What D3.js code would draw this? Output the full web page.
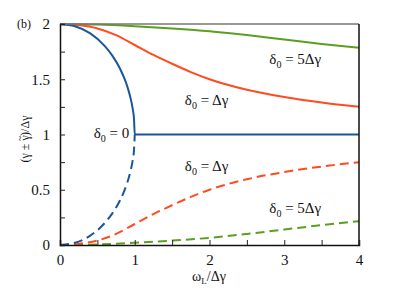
<!DOCTYPE html>
<html>
<head>
<meta charset="utf-8">
<script src="https://cdn.jsdelivr.net/npm/d3@7"></script>
<style>
  body { margin: 0; background: #fff; }
  svg, svg text { font-family: "Liberation Serif", "DejaVu Serif", serif; fill: #111; }
</style>
</head>
<body>
<svg id="chart" width="399" height="299" font-family="Liberation Serif"></svg>
<script>
// values (x = omega_L / delta gamma)
let blueUpX = [0, 0.2, 0.4, 0.6, 0.7, 0.8, 0.86, 0.9, 0.94, 0.97, 0.99, 1.0, 4.0];
let blueUpY = [2.0, 1.98, 1.917, 1.8, 1.714, 1.6, 1.51, 1.436, 1.34, 1.243, 1.14, 1.0, 1.0];
let blueLoX = [0, 0.2, 0.4, 0.6, 0.7, 0.8, 0.86, 0.9, 0.94, 0.97, 0.99, 1.0];
let blueLoY = [0.0, 0.02, 0.083, 0.2, 0.286, 0.4, 0.49, 0.564, 0.66, 0.757, 0.86, 1.0];

let redX = [0, 0.25, 0.5, 0.75, 1.0, 1.25, 1.5, 1.75, 2.0, 2.5, 3.0, 3.5, 4.0];
let redUpY = [2.0, 1.99, 1.96, 1.9, 1.81, 1.72, 1.64, 1.565, 1.5, 1.405, 1.34, 1.29, 1.25];
let redLoY = [0.0, 0.01, 0.04, 0.1, 0.19, 0.28, 0.36, 0.435, 0.5, 0.595, 0.66, 0.71, 0.75];

let greenX = [0, 0.5, 1.0, 1.5, 2.0, 2.5, 3.0, 3.5, 4.0];
let greenUpY = [2.0, 1.995, 1.98, 1.96, 1.935, 1.9, 1.86, 1.82, 1.785];
let greenLoY = [0.0, 0.005, 0.02, 0.04, 0.065, 0.1, 0.14, 0.18, 0.215];

let xTicks = [0, 1, 2, 3, 4];
let xMinor = [0.5, 1.5, 2.5, 3.5];
let yTicks = [0, 0.5, 1, 1.5, 2];
let yMinor = [0.25, 0.75, 1.25, 1.75];

let serif = "Liberation Serif, DejaVu Serif, serif";

let margins = { top: 24, right: 40, bottom: 54, left: 60 };
let width = 399 - margins.left - margins.right;
let height = 299 - margins.top - margins.bottom;

let xScale = d3.scaleLinear().domain([0, 4]).range([0, width]);
let yScale = d3.scaleLinear().domain([0, 2]).range([height, 0]);

let svg = d3.select("#chart");
let graph = svg.append("g")
  .attr("transform", "translate(" + margins.left + "," + margins.top + ")");

let zip = function(xs, ys) { return xs.map(function(x, i) { return [x, ys[i]]; }); };
let line = d3.line()
  .x(function(d) { return xScale(d[0]); })
  .y(function(d) { return yScale(d[1]); })
  .curve(d3.curveMonotoneX);

let blue = "#1b559c", red = "#ff4b1f", green = "#5b9f22";
let series = [
  { pts: zip(greenX, greenLoY), color: green, dash: "9,5" },
  { pts: zip(redX, redLoY), color: red, dash: "9,5" },
  { pts: zip(blueLoX, blueLoY), color: blue, dash: "9,5" },
  { pts: zip(greenX, greenUpY), color: green, dash: null },
  { pts: zip(redX, redUpY), color: red, dash: null },
  { pts: zip(blueUpX, blueUpY), color: blue, dash: null }
];

graph.append("defs").append("clipPath").attr("id", "clip")
  .append("rect").attr("x", 0).attr("y", -1).attr("width", width).attr("height", height + 1);

series.forEach(function(s) {
  graph.append("path")
    .attr("d", line(s.pts))
    .attr("clip-path", "url(#clip)")
    .style("fill", "none")
    .style("stroke", s.color)
    .style("stroke-width", 2)
    .style("stroke-dasharray", s.dash);
});

// frame
graph.append("line").attr("x1", 0).attr("x2", width).attr("y1", 0).attr("y2", 0)
  .style("stroke", "#777").style("stroke-width", 1.5);
graph.append("line").attr("x1", width).attr("x2", width).attr("y1", 0).attr("y2", height)
  .style("stroke", "#111").style("stroke-width", 1.5);

// axes, ticks pointing inside
let xAxis = d3.axisBottom(xScale).tickValues(xTicks).tickSize(-5).tickPadding(9).tickFormat(d3.format("d"));
let yAxis = d3.axisLeft(yScale).tickValues(yTicks).tickSize(-5).tickPadding(10).tickFormat(function(d) { return String(d); });

let gx = graph.append("g").attr("transform", "translate(0," + height + ")").call(xAxis);
graph.append("g").attr("transform", "translate(0," + height + ")")
  .call(d3.axisBottom(xScale).tickValues(xMinor).tickSize(-5).tickFormat(""))
  .select(".domain").remove();
let gy = graph.append("g").call(yAxis);
graph.append("g")
  .call(d3.axisLeft(yScale).tickValues(yMinor).tickSize(-5).tickFormat(""))
  .select(".domain").remove();

[gx, gy].forEach(function(g) {
  g.attr("font-family", serif).attr("font-size", 15);
  g.selectAll("text").style("fill", "#111");
  g.select(".domain").style("stroke-width", 1.5).style("stroke", "#111");
});
graph.selectAll(".tick line").style("stroke", "#222");

// labels
svg.append("text").attr("x", 17).attr("y", 28).attr("font-family", serif).style("font-size", "12px").text("(b)");

let yl = svg.append("text")
  .attr("transform", "translate(29,139) rotate(-90)")
  .attr("text-anchor", "middle")
  .attr("font-family", serif)
  .style("font-size", "12px");
yl.append("tspan").text("(\u03b3 \u00b1 \u03b3");
yl.append("tspan").attr("dx", -6).attr("dy", -6).style("font-size", "10px").text("~");
yl.append("tspan").attr("dy", 6).text(")/\u0394\u03b3");

let xl = svg.append("text").attr("x", 209).attr("y", 281).attr("text-anchor", "middle")
  .attr("font-family", serif).style("font-size", "14px");
xl.append("tspan").text("\u03c9");
xl.append("tspan").attr("dy", 3).style("font-size", "9px").text("L");
xl.append("tspan").attr("dy", -3).text("/\u0394\u03b3");

let notes = [
  { x: 0.45, y: 0.965, t: "= 0" },
  { x: 1.67, y: 1.265, t: "= \u0394\u03b3" },
  { x: 2.8, y: 1.64, t: "= 5\u0394\u03b3" },
  { x: 1.67, y: 0.67, t: "= \u0394\u03b3" },
  { x: 2.8, y: 0.29, t: "= 5\u0394\u03b3" }
];
notes.forEach(function(n) {
  let t = graph.append("text")
    .attr("x", xScale(n.x))
    .attr("y", yScale(n.y))
    .attr("font-family", serif)
    .style("font-size", "15px");
  t.append("tspan").text("\u03b4");
  t.append("tspan").attr("dy", 4).style("font-size", "10px").text("0");
  t.append("tspan").attr("dy", -4).text(" " + n.t);
});
</script>
</body>
</html>
